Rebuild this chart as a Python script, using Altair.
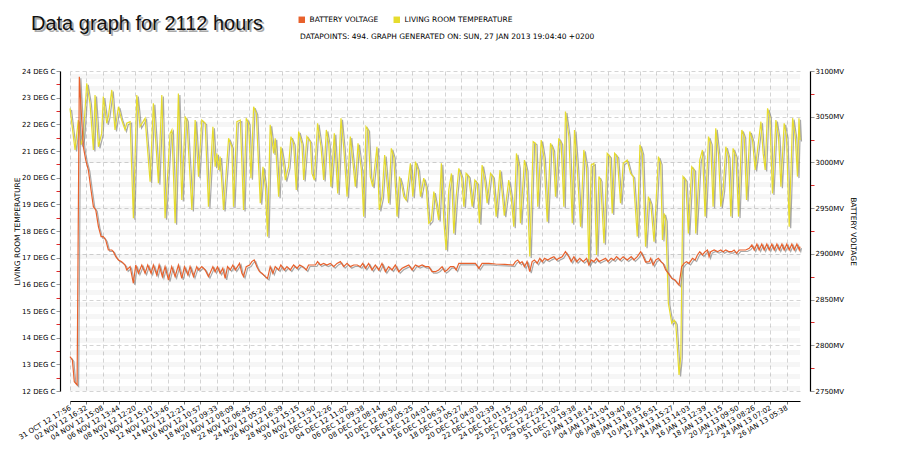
import altair as alt
import pandas as pd

TEMP = "LIVING ROOM TEMPERATURE"
BATT = "BATTERY VOLTAGE"
FONT = "DejaVu Sans"

tick_labels = [
    "31 OCT 12 17:56", "02 NOV 12 16:32", "04 NOV 12 15:08", "06 NOV 12 13:44",
    "08 NOV 12 12:20", "10 NOV 12 15:10", "12 NOV 12 13:46", "14 NOV 12 12:21",
    "16 NOV 12 10:57", "18 NOV 12 09:33", "20 NOV 12 08:09", "22 NOV 12 06:45",
    "24 NOV 12 05:20", "26 NOV 12 16:39", "28 NOV 12 15:15", "30 NOV 12 13:50",
    "02 DEC 12 12:26", "04 DEC 12 11:02", "06 DEC 12 09:38", "08 DEC 12 08:14",
    "10 DEC 12 06:50", "12 DEC 12 05:25", "14 DEC 12 04:01", "16 DEC 12 06:51",
    "18 DEC 12 05:27", "20 DEC 12 04:03", "22 DEC 12 02:39", "24 DEC 12 01:15",
    "25 DEC 12 23:50", "27 DEC 12 22:26", "29 DEC 12 21:02", "31 DEC 12 19:38",
    "02 JAN 13 18:14", "04 JAN 13 21:04", "06 JAN 13 19:40", "08 JAN 13 18:15",
    "10 JAN 13 16:51", "12 JAN 13 15:27", "14 JAN 13 14:03", "16 JAN 13 12:39",
    "18 JAN 13 11:15", "20 JAN 13 09:50", "22 JAN 13 08:26", "24 JAN 13 07:02",
    "26 JAN 13 05:38",
]
n_points = 494
tick_step = 11

# living room temperature (deg C) at sample index
temp_idx = [
    0, 2.3, 3.4, 5.6, 7.4, 9.0, 11.3, 13.5, 15.8, 16.9, 19.2, 21.4, 22.5, 24.8, 25.9,
    28.2, 30.4, 32.7, 34.9, 37.2, 38.3, 40.6, 42.8, 45.1, 47.3, 50.7, 54.1, 56.3, 59.7,
    62.0, 64.2, 67.6, 68.8, 71.0, 73.2, 75.5, 77.8, 78.9, 82.3, 84.5, 86.8, 89.0, 91.3,
    93.5, 96.5, 98.0, 99.2, 100.3, 101.4, 103.7, 107.1, 109.3, 110.4, 112.7, 115.0,
    117.2, 119.0, 120.6, 122.2, 124.0, 125.8, 128.5, 130.3, 131.9, 133.4, 135.2, 137.5,
    138.6, 140.9, 142.4, 144.2, 145.4, 147.6, 149.2, 151.0, 152.8, 154.4, 156.6, 157.8,
    160.0, 162.3, 163.4, 165.0, 167.2, 169.5, 171.3, 173.1, 174.7, 176.2, 178.5, 180.8,
    183.0, 184.8, 187.1, 189.3, 192.7, 194.5, 196.8, 198.3, 199.9, 201.3, 202.8, 204.4,
    205.8, 207.3, 208.9, 210.7, 212.5, 214.1, 215.2, 217.0, 218.6, 220.9, 222.5, 223.8,
    225.4, 227.0, 228.3, 229.9, 231.5, 233.3, 235.1, 236.7, 238.9, 240.5, 242.3, 244.1,
    245.7, 247.2, 249.0, 250.8, 252.4, 254.0, 255.8, 257.6, 259.2, 260.8, 262.6, 264.4,
    266.0, 267.5, 269.3, 271.6, 273.4, 275.0, 276.5, 278.3, 280.1, 281.7, 284.0, 285.6,
    287.8, 290.4, 293.3, 296.3, 297.9, 299.7, 301.5, 303.1, 304.2, 306.9, 308.3, 310.5,
    312.8, 314.4, 315.9, 318.2, 320.0, 322.3, 324.5, 326.3, 327.9, 330.1, 331.7, 333.5,
    334.6, 336.9, 339.2, 340.7, 342.5, 344.8, 347.0, 348.8, 350.4, 352.0, 353.8, 355.6,
    357.2, 358.3, 360.6, 362.8, 364.6, 366.2, 367.8, 369.6, 371.8, 373.6, 376.3, 378.6,
    380.4, 383.1, 384.9, 386.5, 388.7, 390.6, 392.2, 394.4, 397.4, 398.9, 400.1, 401.2,
    402.3, 404.1, 406.4, 408.0, 409.1, 411.3, 412.5, 414.0, 415.8, 417.6, 419.9, 421.5,
    422.6, 425.3, 427.1, 428.9, 431.2, 432.7, 434.3, 436.1, 437.9, 439.5, 441.1, 442.9,
    444.7, 446.3, 447.8, 449.7, 451.5, 453.7, 455.3, 456.9, 459.1, 460.9, 462.7, 464.3,
    466.6, 468.1, 469.5, 471.1, 472.6, 474.4, 476.7, 478.5, 480.1, 482.3, 483.9, 485.7,
    488.0, 489.8, 491.3, 492.3, 493,
]
temp_val = [
    22.60, 21.54, 21.04, 22.16, 21.23, 21.54, 23.54, 22.79, 21.04, 23.10, 21.16, 21.66,
    23.04, 22.04, 22.29, 23.29, 21.79, 22.66, 22.16, 21.79, 22.04, 22.10, 18.48, 23.10,
    21.91, 22.23, 19.85, 22.79, 19.79, 23.10, 18.48, 21.66, 21.79, 18.29, 23.16, 19.16,
    22.29, 22.16, 18.79, 22.16, 20.04, 22.16, 22.04, 18.91, 21.91, 20.41, 20.91, 20.29,
    20.79, 18.79, 21.48, 21.16, 18.91, 22.10, 22.16, 18.79, 22.23, 22.04, 19.98, 22.66,
    22.41, 19.04, 20.41, 19.66, 17.79, 21.98, 20.91, 21.48, 19.29, 21.16, 20.54, 19.91,
    20.41, 21.54, 21.29, 19.54, 21.73, 21.29, 19.91, 21.54, 21.35, 20.16, 19.91, 22.04,
    21.16, 19.91, 21.79, 21.29, 19.66, 21.66, 19.41, 22.23, 21.16, 19.29, 21.54, 19.66,
    21.29, 20.29, 18.54, 21.91, 21.79, 20.04, 19.66, 20.41, 21.16, 18.79, 19.29, 20.85,
    19.79, 19.04, 21.10, 20.79, 18.54, 20.04, 19.79, 19.29, 19.16, 19.79, 20.54, 19.29,
    20.60, 20.29, 19.29, 19.98, 19.66, 18.29, 18.41, 19.48, 19.04, 18.41, 20.54, 18.41,
    17.29, 19.54, 20.16, 17.91, 19.29, 20.35, 20.04, 18.91, 20.16, 20.04, 18.91, 19.91,
    19.79, 18.29, 20.47, 19.91, 19.04, 20.16, 20.04, 18.54, 20.29, 18.57, 19.91, 19.29,
    18.16, 20.91, 20.41, 18.29, 20.66, 20.29, 17.04, 21.35, 21.29, 18.91, 21.41, 20.79,
    18.35, 21.29, 21.04, 19.29, 21.48, 21.29, 18.91, 22.48, 21.54, 18.29, 21.79, 20.41,
    18.16, 21.04, 20.41, 16.73, 20.48, 20.54, 17.10, 20.04, 19.91, 17.54, 20.91, 20.79,
    18.66, 20.91, 20.79, 19.04, 20.54, 20.66, 20.16, 20.04, 17.79, 21.23, 20.91, 17.41,
    19.29, 19.04, 17.60, 20.79, 20.54, 17.66, 18.66, 18.41, 15.29, 14.54, 14.66, 14.54,
    12.60, 13.29, 20.04, 19.91, 17.91, 20.41, 20.29, 17.91, 20.66, 21.04, 18.54, 21.54,
    21.29, 18.91, 21.85, 20.91, 18.91, 19.54, 21.16, 20.79, 18.54, 21.10, 20.79, 18.54,
    21.79, 21.54, 19.16, 21.73, 21.41, 20.29, 21.04, 22.10, 20.91, 20.29, 22.60, 22.29,
    19.41, 22.16, 21.54, 19.66, 22.04, 21.54, 18.16, 22.23, 21.54, 20.04, 22.23, 21.41,
]

# battery voltage (mV) at sample index
batt_idx = [
    0, 1.6, 2.9, 4.8, 6.3, 7.9, 9.0, 10.6, 12.4, 14.2, 15.8, 17.4, 19.2, 21.0, 22.5,
    24.1, 25.9, 28.2, 29.3, 30.9, 32.7, 34.9, 37.2, 38.3, 40.6, 42.8, 44.4, 46.2, 48.5,
    50.7, 52.5, 54.8, 56.3, 58.6, 60.2, 62.4, 64.2, 66.5, 68.7, 71.0, 73.2, 75.5, 77.3,
    79.6, 81.1, 83.4, 85.6, 86.8, 89.0, 91.3, 93.5, 96.5, 98.0, 99.6, 101.4, 103.2,
    104.8, 106.4, 108.2, 110.0, 111.6, 113.1, 114.5, 116.1, 117.2, 119.0, 121.3, 122.8,
    124.4, 126.2, 128.0, 129.6, 131.9, 133.4, 135.2, 137.0, 138.6, 140.9, 142.4, 144.7,
    146.5, 148.8, 151.0, 153.3, 155.1, 157.3, 159.6, 161.1, 163.4, 165.7, 167.2, 169.0,
    171.3, 173.5, 175.8, 178.1, 180.3, 182.6, 184.8, 187.1, 189.3, 191.6, 194.0, 196.1,
    197.7, 199.5, 201.7, 204.0, 206.2, 208.5, 210.7, 213.0, 215.2, 217.5, 219.7, 222.0,
    224.3, 226.5, 228.8, 231.0, 233.3, 235.5, 237.8, 240.0, 242.3, 244.5, 246.8, 249.0,
    251.3, 253.1, 254.7, 256.9, 259.2, 260.8, 262.6, 264.8, 269.3, 273.8, 276.1, 278.3,
    282.9, 287.4, 293.7, 299.3, 300.8, 302.4, 303.8, 305.3, 306.9, 308.7, 310.5, 312.1,
    313.7, 315.5, 317.3, 318.9, 320.5, 322.7, 324.5, 326.8, 328.6, 330.1, 332.4, 334.6,
    336.9, 338.5, 340.3, 342.1, 344.3, 346.6, 348.9, 350.4, 352.0, 353.8, 355.6, 357.2,
    359.4, 361.7, 363.3, 365.5, 367.3, 369.1, 371.4, 373.6, 376.3, 379.0, 380.8, 383.1,
    385.4, 387.2, 388.7, 391.1, 392.2, 393.8, 395.6, 397.4, 399.0, 400.5, 402.3, 404.1,
    406.4, 408.6, 410.2, 411.3, 413.1, 414.7, 416.3, 418.1, 420.4, 422.2, 423.7, 425.3,
    427.1, 428.9, 430.5, 431.6, 432.7, 435.0, 437.3, 439.5, 441.1, 442.9, 445.1, 446.9,
    448.5, 450.1, 451.9, 454.2, 456.4, 458.7, 460.5, 462.1, 463.9, 465.4, 467.2, 468.8,
    470.6, 472.2, 474.0, 475.6, 477.4, 479.0, 480.8, 482.3, 484.1, 485.7, 487.5, 489.1,
    490.9, 492.5, 493,
]
batt_val = [
    2787.6, 2783.9, 2760.2, 2756.6, 3093.8, 3046.4, 3017.2, 3002.7, 2991.7, 2969.8,
    2951.6, 2948.0, 2929.8, 2918.8, 2918.8, 2915.2, 2904.2, 2904.2, 2902.4, 2896.9,
    2893.3, 2891.5, 2887.8, 2882.4, 2886.0, 2867.8, 2887.8, 2878.7, 2887.8, 2878.7,
    2887.8, 2878.7, 2887.8, 2876.9, 2887.8, 2875.1, 2886.0, 2871.4, 2886.0, 2875.1,
    2887.8, 2873.2, 2886.0, 2876.9, 2886.0, 2875.1, 2886.0, 2882.4, 2886.0, 2882.4,
    2875.1, 2886.0, 2880.5, 2886.0, 2878.7, 2884.2, 2873.2, 2886.0, 2882.4, 2887.8,
    2882.4, 2886.0, 2889.6, 2878.7, 2875.1, 2886.0, 2887.8, 2891.5, 2893.3, 2886.0,
    2880.5, 2878.7, 2875.1, 2873.2, 2886.0, 2878.7, 2886.0, 2882.4, 2887.8, 2882.4,
    2886.0, 2882.4, 2887.8, 2884.2, 2887.8, 2886.0, 2882.4, 2887.8, 2887.8, 2887.8,
    2891.5, 2887.8, 2889.6, 2887.8, 2889.6, 2886.0, 2889.6, 2891.5, 2886.0, 2889.6,
    2886.0, 2887.8, 2887.8, 2886.0, 2889.6, 2884.2, 2889.6, 2882.4, 2887.8, 2882.4,
    2889.6, 2880.5, 2886.0, 2882.4, 2887.8, 2880.5, 2884.2, 2886.0, 2887.8, 2882.4,
    2887.8, 2886.0, 2887.8, 2886.0, 2886.0, 2880.5, 2880.5, 2882.4, 2886.0, 2880.5,
    2882.4, 2886.0, 2886.0, 2882.4, 2889.6, 2889.6, 2889.6, 2889.6, 2884.2, 2889.6,
    2889.6, 2888.9, 2888.5, 2887.8, 2891.5, 2893.3, 2889.6, 2891.5, 2886.0, 2891.5,
    2880.5, 2891.5, 2893.3, 2889.6, 2895.1, 2891.5, 2895.1, 2893.3, 2895.1, 2896.9,
    2893.3, 2895.1, 2896.9, 2902.4, 2896.9, 2891.5, 2896.9, 2891.5, 2895.1, 2891.5,
    2895.1, 2887.8, 2893.3, 2891.5, 2895.1, 2891.5, 2893.3, 2895.1, 2891.5, 2895.1,
    2893.3, 2896.9, 2893.3, 2896.9, 2893.3, 2896.9, 2893.3, 2896.9, 2902.4, 2896.9,
    2891.0, 2891.5, 2895.1, 2887.8, 2893.3, 2895.1, 2891.5, 2889.6, 2882.4, 2878.7,
    2873.2, 2871.4, 2867.8, 2866.0, 2886.0, 2889.6, 2891.5, 2889.6, 2895.1, 2893.3,
    2898.8, 2902.4, 2898.8, 2902.4, 2904.2, 2896.9, 2902.4, 2904.2, 2902.4, 2904.2,
    2902.4, 2904.2, 2902.4, 2902.4, 2904.2, 2900.6, 2904.2, 2904.2, 2904.2, 2906.0,
    2909.7, 2904.2, 2910.8, 2904.2, 2910.8, 2904.2, 2910.8, 2904.2, 2910.8, 2904.2,
    2910.8, 2904.2, 2910.8, 2904.2, 2910.8, 2904.2, 2910.8, 2904.2, 2910.8, 2904.2,
    2908.0,
]

temp_df = pd.DataFrame({"idx": temp_idx, "temp": temp_val, "series": TEMP})
batt_df = pd.DataFrame({"idx": batt_idx, "mv": batt_val, "series": BATT})

# faint horizontal banding of the plot background
band_lo = [12 + k * 0.45 for k in range(27)]
stripes_df = pd.DataFrame({"lo": band_lo, "hi": [v + 0.19 for v in band_lo]})

tick_values = [k * tick_step for k in range(len(tick_labels))]
label_array = "[" + ",".join("'%s'" % s for s in tick_labels) + "]"

x_scale = alt.Scale(domain=[0, n_points - 1], nice=False, zero=False)
temp_scale = alt.Scale(domain=[12, 24], nice=False, zero=False)
batt_scale = alt.Scale(domain=[2750, 3100], nice=False, zero=False)
color_scale = alt.Scale(domain=[BATT, TEMP], range=["#e8612c", "#e6dc2e"])

# every layer sharing a scale gets the very same axis, so they merge into one
x_axis = alt.Axis(
    values=tick_values,
    labelExpr=label_array + "[round(datum.value / 11)]",
    labelAngle=329, labelAlign="right", labelBaseline="middle",
    labelOverlap=False, labelFlush=False, labelPadding=3, labelFontSize=7,
    grid=True, gridDash=[4, 3], gridColor="#d4d4d4",
    tickColor="#777777", tickSize=3, offset=10, title=None,
)
left_axis = alt.Axis(
    orient="left",
    values=[12 + k * 0.5 for k in range(25)],
    labelExpr="datum.value % 1 == 0 ? datum.value + ' DEG C' : ''",
    labelOverlap=False, labelPadding=1,
    tickColor={"condition": {"test": "datum.value % 1 != 0", "value": "#e02a2a"}, "value": "#999999"},
    tickSize=4, offset=10, grid=False,
    title=TEMP, titlePadding=0,
)
right_axis = alt.Axis(
    orient="right",
    values=[2750 + k * 25 for k in range(15)],
    labelExpr="datum.value % 50 == 0 ? datum.value + 'MV' : ''",
    labelOverlap=False, labelPadding=1,
    tickColor={"condition": {"test": "datum.value % 50 != 0", "value": "#e02a2a"}, "value": "#999999"},
    tickSize=4, offset=10,
    grid=True, gridDash=[4, 3], gridColor="#d4d4d4",
    gridOpacity={"condition": {"test": "datum.value % 50 != 0", "value": 0}, "value": 1},
    title=BATT, titlePadding=5,
)
legend = alt.Legend(
    title=None, orient="none", legendX=228, legendY=-55, direction="horizontal",
    symbolType="square", symbolSize=6, symbolStrokeWidth=4,
    labelFont=FONT, labelFontSize=7.5, labelColor="black",
    columnPadding=8, labelOffset=4, padding=0,
)

stripes = alt.Chart(stripes_df).mark_rect(color="black", opacity=0.035).encode(
    y=alt.Y("lo:Q", scale=temp_scale, axis=left_axis),
    y2="hi:Q",
)
temp_shadow = alt.Chart(temp_df).mark_line(
    color="#8c8c8c", strokeWidth=1.2, opacity=0.75, xOffset=1.5, yOffset=1.5
).encode(
    x=alt.X("idx:Q", scale=x_scale, axis=x_axis),
    y=alt.Y("temp:Q", scale=temp_scale, axis=left_axis),
)
temp_line = alt.Chart(temp_df).mark_line(strokeWidth=1.2).encode(
    x=alt.X("idx:Q", scale=x_scale, axis=x_axis),
    y=alt.Y("temp:Q", scale=temp_scale, axis=left_axis),
    color=alt.Color("series:N", scale=color_scale, legend=legend),
)
batt_shadow = alt.Chart(batt_df).mark_line(
    color="#8c8c8c", strokeWidth=1.2, opacity=0.75, xOffset=1.5, yOffset=1.5
).encode(
    x=alt.X("idx:Q", scale=x_scale, axis=x_axis),
    y=alt.Y("mv:Q", scale=batt_scale, axis=right_axis),
)
batt_line = alt.Chart(batt_df).mark_line(strokeWidth=1.2).encode(
    x=alt.X("idx:Q", scale=x_scale, axis=x_axis),
    y=alt.Y("mv:Q", scale=batt_scale, axis=right_axis),
    color=alt.Color("series:N", scale=color_scale, legend=legend),
)

one = pd.DataFrame({"k": [0]})
title_shadow = alt.Chart(one).mark_text(
    text="Data graph for 2112 hours", font="Liberation Sans",
    fontSize=20, color="#a8a8a8", align="left", baseline="alphabetic",
).encode(x=alt.value(-37), y=alt.value(-39))
title_text = alt.Chart(one).mark_text(
    text="Data graph for 2112 hours", font="Liberation Sans",
    fontSize=20, color="#111111", align="left", baseline="alphabetic",
).encode(x=alt.value(-39), y=alt.value(-41))
subtitle = alt.Chart(one).mark_text(
    text="DATAPOINTS: 494. GRAPH GENERATED ON: SUN, 27 JAN 2013 19:04:40 +0200",
    font=FONT, fontSize=7.5, color="black", align="left", baseline="middle",
).encode(x=alt.value(230), y=alt.value(-34))

temp_group = alt.layer(stripes, temp_shadow, temp_line)
batt_group = alt.layer(batt_shadow, batt_line)

chart = alt.layer(temp_group, batt_group, title_shadow, title_text, subtitle).resolve_scale(
    y="independent"
).properties(
    width=730,
    height=320,
    autosize=alt.AutoSizeParams(type="none"),
    padding={"left": 62, "top": 63, "right": 92, "bottom": 58},
    background="white",
).configure_axis(
    labelFont=FONT, labelFontSize=7, labelColor="black",
    titleFont=FONT, titleFontSize=7.5, titleFontWeight="normal", titleColor="black",
    domainColor="black", domainWidth=1.2,
).configure_view(
    strokeWidth=0
)

chart.save("out.html", embed_options={"renderer": "svg", "actions": False})
